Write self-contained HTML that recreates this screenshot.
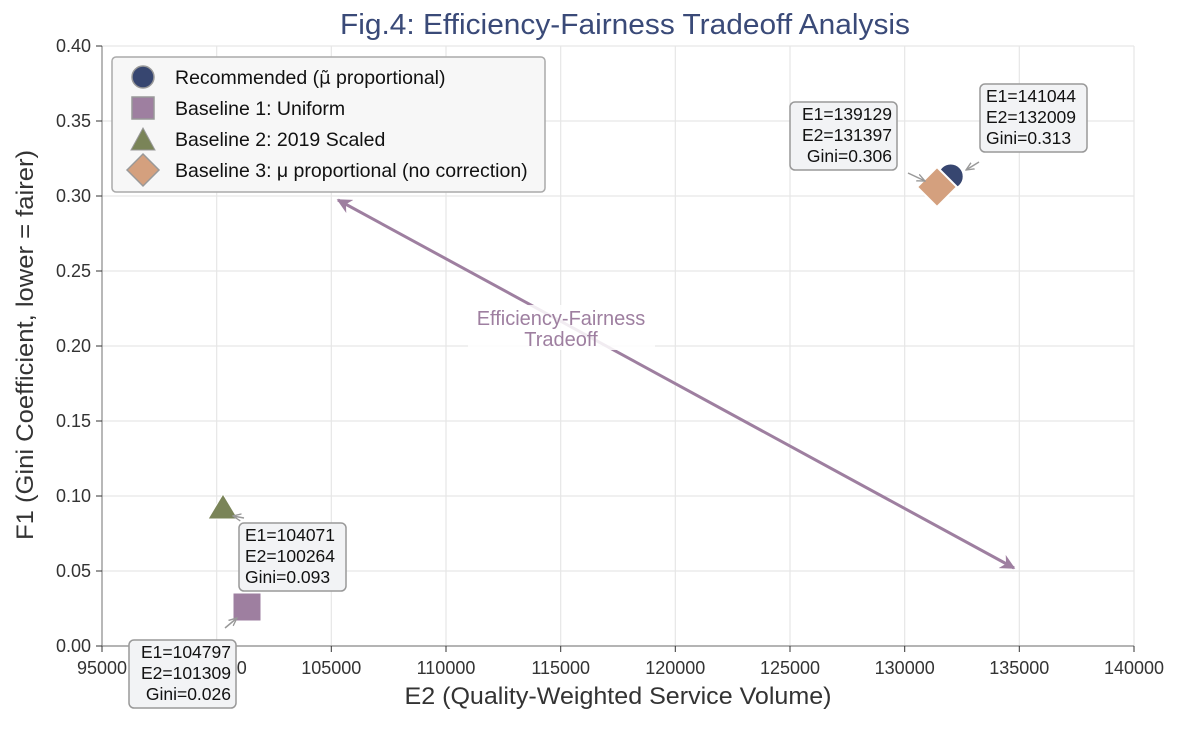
<!DOCTYPE html>
<html><head><meta charset="utf-8"><style>
html,body{margin:0;padding:0;background:#fff;}
svg text{font-family:"Liberation Sans",Arial,sans-serif;}
</style></head><body>
<svg width="1185" height="726" viewBox="0 0 1185 726" xmlns="http://www.w3.org/2000/svg">
<defs>
<marker id="ah" viewBox="0 0 10 10" refX="9" refY="5" markerWidth="5" markerHeight="5" orient="auto-start-reverse"><path d="M0,0 L10,5 L0,10 L3,5 z" fill="#9e7fa0"/></marker>
<marker id="ag" viewBox="0 0 10 10" refX="9" refY="5" markerWidth="6" markerHeight="6" orient="auto"><path d="M0,1 L9,5 L0,9" fill="none" stroke="#999" stroke-width="1.5"/></marker>
</defs>
<rect width="1185" height="726" fill="#fff"/>
<text x="625" y="34" text-anchor="middle" font-size="29" fill="#3a4a78" textLength="570" lengthAdjust="spacingAndGlyphs">Fig.4: Efficiency-Fairness Tradeoff Analysis</text>
<g stroke="#e6e6e6" stroke-width="1.2">
<line x1="216.7" y1="46" x2="216.7" y2="646"/><line x1="331.3" y1="46" x2="331.3" y2="646"/><line x1="446" y1="46" x2="446" y2="646"/><line x1="560.7" y1="46" x2="560.7" y2="646"/><line x1="675.3" y1="46" x2="675.3" y2="646"/><line x1="790" y1="46" x2="790" y2="646"/><line x1="904.7" y1="46" x2="904.7" y2="646"/><line x1="1019.3" y1="46" x2="1019.3" y2="646"/><line x1="1134" y1="46" x2="1134" y2="646"/>
<line x1="102" y1="46" x2="1134" y2="46"/><line x1="102" y1="121" x2="1134" y2="121"/><line x1="102" y1="196" x2="1134" y2="196"/><line x1="102" y1="271" x2="1134" y2="271"/><line x1="102" y1="346" x2="1134" y2="346"/><line x1="102" y1="421" x2="1134" y2="421"/><line x1="102" y1="496" x2="1134" y2="496"/><line x1="102" y1="571" x2="1134" y2="571"/>
</g>
<g stroke="#888" stroke-width="1.2"><line x1="102" y1="46" x2="102" y2="646"/><line x1="102" y1="646" x2="1134" y2="646"/></g>
<g stroke="#333" stroke-width="1">
<line x1="102" y1="646" x2="102" y2="652"/><line x1="216.7" y1="646" x2="216.7" y2="652"/><line x1="331.3" y1="646" x2="331.3" y2="652"/><line x1="446" y1="646" x2="446" y2="652"/><line x1="560.7" y1="646" x2="560.7" y2="652"/><line x1="675.3" y1="646" x2="675.3" y2="652"/><line x1="790" y1="646" x2="790" y2="652"/><line x1="904.7" y1="646" x2="904.7" y2="652"/><line x1="1019.3" y1="646" x2="1019.3" y2="652"/><line x1="1134" y1="646" x2="1134" y2="652"/>
<line x1="96" y1="46" x2="102" y2="46"/><line x1="96" y1="121" x2="102" y2="121"/><line x1="96" y1="196" x2="102" y2="196"/><line x1="96" y1="271" x2="102" y2="271"/><line x1="96" y1="346" x2="102" y2="346"/><line x1="96" y1="421" x2="102" y2="421"/><line x1="96" y1="496" x2="102" y2="496"/><line x1="96" y1="571" x2="102" y2="571"/><line x1="96" y1="646" x2="102" y2="646"/>
</g>
<g font-size="18" fill="#333" text-anchor="middle">
<text x="102" y="674">95000</text><text x="216.7" y="674">100000</text><text x="331.3" y="674">105000</text><text x="446" y="674">110000</text><text x="560.7" y="674">115000</text><text x="675.3" y="674">120000</text><text x="790" y="674">125000</text><text x="904.7" y="674">130000</text><text x="1019.3" y="674">135000</text><text x="1134" y="674">140000</text>
</g>
<g font-size="18" fill="#333" text-anchor="end">
<text x="91" y="52">0.40</text><text x="91" y="127">0.35</text><text x="91" y="202">0.30</text><text x="91" y="277">0.25</text><text x="91" y="352">0.20</text><text x="91" y="427">0.15</text><text x="91" y="502">0.10</text><text x="91" y="577">0.05</text><text x="91" y="652">0.00</text>
</g>
<text x="618" y="704" text-anchor="middle" font-size="24" fill="#333" textLength="427" lengthAdjust="spacingAndGlyphs">E2 (Quality-Weighted Service Volume)</text>
<text transform="translate(33,345) rotate(-90)" text-anchor="middle" font-size="24" fill="#333" textLength="390" lengthAdjust="spacingAndGlyphs">F1 (Gini Coefficient, lower = fairer)</text>
<line x1="338" y1="200" x2="1014" y2="568" stroke="#9e7fa0" stroke-width="3" marker-start="url(#ah)" marker-end="url(#ah)"/>
<rect x="468" y="305" width="187" height="45" fill="#fff" fill-opacity="0.85"/>
<text x="561" y="325" text-anchor="middle" font-size="20" fill="#9e7fa0">Efficiency-Fairness</text>
<text x="561" y="346" text-anchor="middle" font-size="20" fill="#9e7fa0">Tradeoff</text>
<circle cx="950.7" cy="176.5" r="13" fill="#374670" stroke="#fff" stroke-width="2"/>
<polygon points="937,167 957,187 937,207 917,187" fill="#d4a07e" stroke="#fff" stroke-width="2"/>
<rect x="233" y="593" width="28" height="28" fill="#9e7fa0" stroke="#fff" stroke-width="1"/>
<polygon points="223,494 238,519 208,519" fill="#7a8458" stroke="#fff" stroke-width="1"/>
<g stroke="#999" stroke-width="1.5" fill="none">
<line x1="979" y1="162" x2="966" y2="170" marker-end="url(#ag)"/>
<line x1="908" y1="173" x2="925" y2="181" marker-end="url(#ag)"/>
<line x1="225" y1="628" x2="237" y2="618" marker-end="url(#ag)"/>
<line x1="244" y1="518" x2="233" y2="516" marker-end="url(#ag)"/>
</g>
<g fill="#f2f3f5" stroke="#999" stroke-width="1.5">
<rect x="980" y="84" width="107" height="68" rx="5"/>
<rect x="790" y="102" width="107" height="68" rx="5"/>
<rect x="239" y="523" width="107" height="68" rx="5"/>
<rect x="129" y="640" width="107" height="68" rx="5"/>
</g>
<g font-size="17.5" fill="#111">
<text x="986" y="102">E1=141044</text><text x="986" y="123">E2=132009</text><text x="986" y="144">Gini=0.313</text>
<g text-anchor="end"><text x="892" y="120">E1=139129</text><text x="892" y="141">E2=131397</text><text x="892" y="162">Gini=0.306</text></g>
<text x="245" y="541">E1=104071</text><text x="245" y="562">E2=100264</text><text x="245" y="583">Gini=0.093</text>
<g text-anchor="end"><text x="231" y="658">E1=104797</text><text x="231" y="679">E2=101309</text><text x="231" y="700">Gini=0.026</text></g>
</g>
<rect x="112" y="57" width="433" height="135" rx="4" fill="#f7f7f7" stroke="#aaa" stroke-width="1.5"/>
<circle cx="143" cy="77" r="11" fill="#374670" stroke="#999" stroke-width="1.5"/>
<rect x="132" y="97" width="22" height="22" fill="#9e7fa0" stroke="#999" stroke-width="1.5"/>
<polygon points="143,128 155,150 131,150" fill="#7a8458" stroke="#999" stroke-width="1"/>
<polygon points="143,154 159,170 143,186 127,170" fill="#d4a07e" stroke="#999" stroke-width="1.5"/>
<g font-size="19.5" fill="#111">
<text x="175" y="84">Recommended (<tspan style="font-family:'DejaVu Sans',sans-serif" font-size="18">μ̃</tspan> proportional)</text>
<text x="175" y="115">Baseline 1: Uniform</text>
<text x="175" y="146">Baseline 2: 2019 Scaled</text>
<text x="175" y="177">Baseline 3: μ proportional (no correction)</text>
</g>
</svg>
</body></html>
